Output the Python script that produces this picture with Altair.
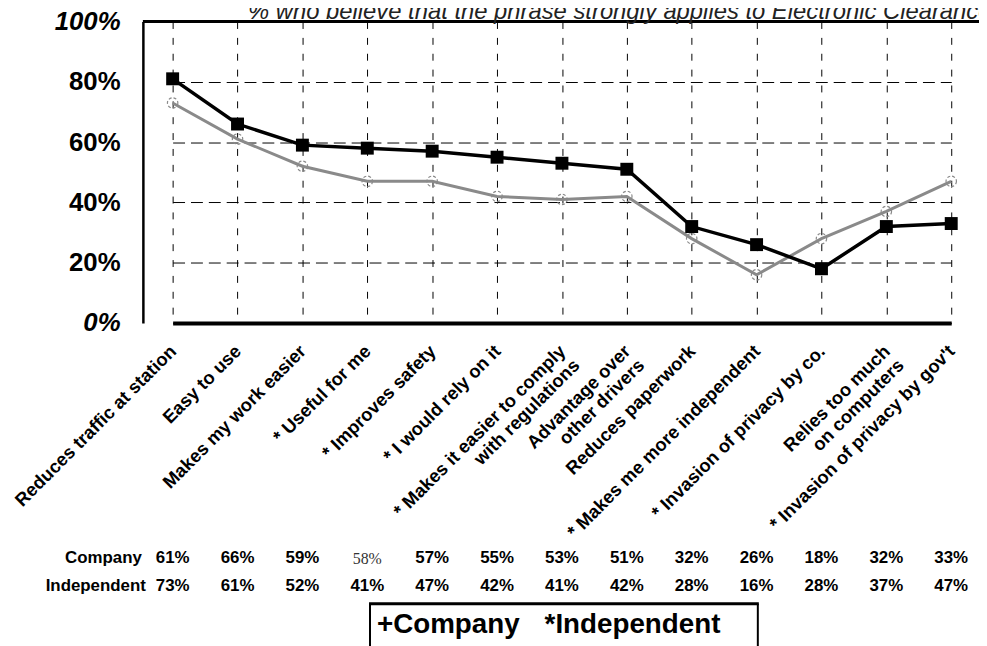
import altair as alt
import pandas as pd

# ---------------- data ----------------
categories = [
    "Reduces traffic at station",
    "Easy to use",
    "Makes my work easier",
    "* Useful for me",
    "* Improves safety",
    "* I would rely on it",
    "* Makes it easier to comply|with regulations",
    "Advantage over|other drivers",
    "Reduces paperwork",
    "* Makes me more independent",
    "* Invasion of privacy by co.",
    "Relies too much|on computers",
    "* Invasion of privacy by gov't",
]
series_names = ["Company", "Independent"]
company_values = [81, 66, 59, 58, 57, 55, 53, 51, 32, 26, 18, 32, 33]
independent_values = [73, 61, 52, 47, 47, 42, 41, 42, 28, 16, 28, 37, 47]
company_table = ["61%", "66%", "59%", "58%", "57%", "55%", "53%", "51%", "32%", "26%", "18%", "32%", "33%"]
independent_table = ["73%", "61%", "52%", "41%", "47%", "42%", "41%", "42%", "28%", "16%", "28%", "37%", "47%"]
y_ticks = [0, 20, 40, 60, 80, 100]
title_text = "% who believe that the phrase strongly applies to Electronic Clearance"
legend_labels = ["+Company", "*Independent"]

FONT = "Liberation Sans"
W, H = 843, 304
n = len(categories)

lines_df = pd.DataFrame({
    "cat": categories * 2,
    "series": [series_names[0]] * n + [series_names[1]] * n,
    "value": company_values + independent_values,
})
table_df = pd.DataFrame({
    "cat": categories * 2,
    "series": [series_names[0]] * n + [series_names[1]] * n,
    "label": company_table + independent_table,
})

x_scale = alt.Scale(domain=categories, range=[30, 815], padding=0)
y_scale = alt.Scale(domain=[0, 100], nice=False, zero=True)

x_axis = alt.Axis(
    title=None, labelAngle=-45, labelAlign="right", labelBaseline="middle",
    labelPadding=25, labelFont=FONT, labelFontSize=18.5, labelFontWeight="bold",
    labelColor="black", labelLimit=0, labelOverlap=False,
    labelExpr="split(datum.label, '|')", labelLineHeight=20,
    ticks=False, domain=True, domainColor="black", domainWidth=4,
    grid=True, gridColor="black", gridDash=[7, 9], gridWidth=1, gridOpacity=1,
)
y_axis = alt.Axis(
    title=None, values=y_ticks, labelExpr="datum.value + '%'",
    labelFont=FONT, labelFontSize=26, labelFontWeight="bold",
    labelFontStyle={"condition": {"test": "datum.value == 0 || datum.value == 100",
                                  "value": "italic"}, "value": "normal"},
    labelColor="black", labelPadding=23, labelOverlap=False,
    ticks=False, domain=True, domainColor="black", domainWidth=2.5,
    grid=True, gridColor="black", gridDash=[12, 6], gridWidth=1, gridOpacity=1,
)

base = alt.Chart(lines_df)
x_main = alt.X("cat:N", sort=categories, scale=x_scale, axis=x_axis)
y_main = alt.Y("value:Q", scale=y_scale, axis=y_axis)

ind = base.transform_filter("datum.series == 'Independent'")
com = base.transform_filter("datum.series == 'Company'")

ind_line = ind.mark_line(color="#8a8a8a", strokeWidth=3).encode(x=x_main, y=y_main)
ind_pts = ind.mark_point(shape="circle", filled=False, size=110, color="#8a8a8a",
                         strokeWidth=1.2, strokeDash=[3, 2], opacity=1).encode(x=x_main, y=y_main)
com_line = com.mark_line(color="black", strokeWidth=3.5).encode(x=x_main, y=y_main)
com_pts = com.mark_point(shape="square", filled=True, size=170, color="black",
                         opacity=1).encode(x=x_main, y=y_main)

top_border = alt.Chart(pd.DataFrame({"k": [0]})).mark_rule(color="black", strokeWidth=3).encode(
    x=alt.value(0), x2=alt.value(W), y=alt.value(0))

tbl = alt.Chart(table_df)
tbl_com = tbl.transform_filter(
    "datum.series == 'Company' && datum.cat != '* Useful for me'"
).mark_text(font=FONT, fontSize=17, fontWeight="bold", color="black",
            align="center", baseline="middle").encode(x=x_main, y=alt.value(541), text="label:N")
tbl_com_serif = tbl.transform_filter(
    "datum.series == 'Company' && datum.cat == '* Useful for me'"
).mark_text(font="Liberation Serif", fontSize=16, fontWeight="normal", color="#333333",
            align="center", baseline="middle").encode(x=x_main, y=alt.value(542), text="label:N")
tbl_ind = tbl.transform_filter("datum.series == 'Independent'").mark_text(
    font=FONT, fontSize=17, fontWeight="bold", color="black",
    align="center", baseline="middle").encode(x=x_main, y=alt.value(569), text="label:N")

rows = alt.Chart(pd.DataFrame({"row": series_names}))
row_com = rows.transform_filter("datum.row == 'Company'").mark_text(
    font=FONT, fontSize=17, fontWeight="bold", color="black", align="right",
    baseline="middle").encode(x=alt.value(-1), y=alt.value(541), text="row:N")
row_ind = rows.transform_filter("datum.row == 'Independent'").mark_text(
    font=FONT, fontSize=17, fontWeight="bold", color="black", align="right",
    baseline="middle").encode(x=alt.value(3), y=alt.value(569), text="row:N")

title = alt.Chart(pd.DataFrame({"t": [title_text]})).mark_text(
    font=FONT, fontSize=24, fontStyle="italic", color="#222222", align="left",
    baseline="alphabetic").encode(x=alt.value(106), y=alt.value(-3), text="t:N")

leg_df = pd.DataFrame({"t": legend_labels})
leg_top = alt.Chart(pd.DataFrame({"k": [0]})).mark_rule(color="black", strokeWidth=3).encode(
    x=alt.value(228), x2=alt.value(621), y=alt.value(587))
leg_left = alt.Chart(pd.DataFrame({"k": [0]})).mark_rule(color="black", strokeWidth=2).encode(
    x=alt.value(229), y=alt.value(587), y2=alt.value(640))
leg_right = alt.Chart(pd.DataFrame({"k": [0]})).mark_rule(color="black", strokeWidth=2).encode(
    x=alt.value(620), y=alt.value(587), y2=alt.value(640))
leg_t1 = alt.Chart(leg_df).transform_filter("datum.t == '+Company'").mark_text(
    font=FONT, fontSize=28, fontWeight="bold", color="black", align="left",
    baseline="alphabetic").encode(x=alt.value(236), y=alt.value(617), text="t:N")
leg_t2 = alt.Chart(leg_df).transform_filter("datum.t == '*Independent'").mark_text(
    font=FONT, fontSize=28, fontWeight="bold", color="black", align="left",
    baseline="alphabetic").encode(x=alt.value(405), y=alt.value(617), text="t:N")

chart = alt.layer(
    ind_line, ind_pts, com_line, com_pts, top_border,
    tbl_com, tbl_com_serif, tbl_ind, row_com, row_ind, title,
    leg_top, leg_left, leg_right, leg_t1, leg_t2,
).properties(
    width=W, height=H,
    autosize=alt.AutoSizeParams(type="none"),
    padding={"left": 136, "top": 11, "right": 0, "bottom": 323},
    background="white",
).configure_view(stroke=None)

chart.save("out.html", embed_options={"renderer": "svg", "actions": False})
